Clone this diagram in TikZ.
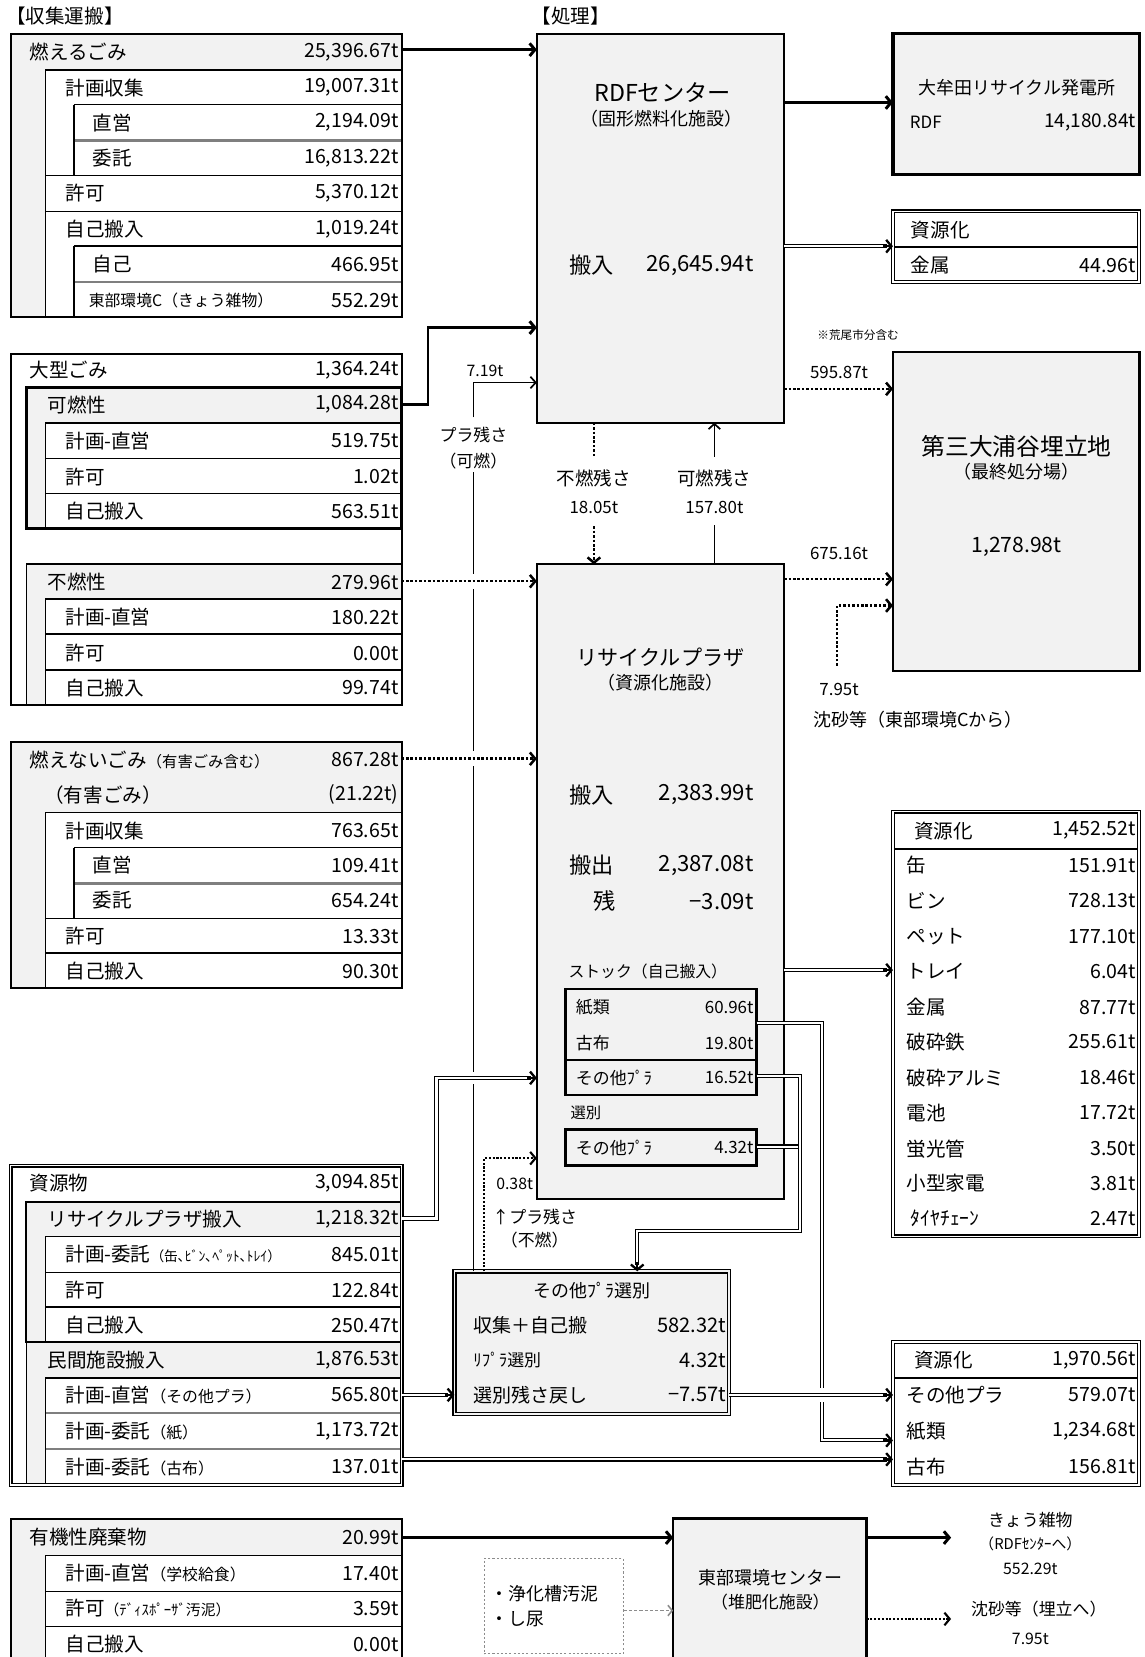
\documentclass[tikz,border=0pt]{standalone}
\usepackage{fontspec}
\setmainfont{Noto Sans CJK JP}
\usetikzlibrary{arrows.meta,calc}
\definecolor{boxgray}{HTML}{F2F2F2}
\definecolor{sepgray}{HTML}{7F7F7F}
\definecolor{dashgray}{HTML}{8C8C8C}
\newcommand\fs[1]{\fontsize{#1}{#1}\selectfont}
\tikzset{
  base/.style={inner sep=0pt, outer sep=0pt},
  tbox/.style={base, draw, line width=2pt, anchor=north west},
  lbl/.style={base, anchor=west, font=\fs{18.5}},
  val/.style={base, anchor=east, font=\fs{18.5}},
  ctr/.style={base, anchor=center},
  rowline/.style={line width=1.5pt},
  sepline/.style={line width=2.2pt, draw=sepgray},
  dbl/.style={line width=1.1pt, double=white, double distance=1.6pt},
  arr/.style={line width=2.8pt, -{Straight Barb[length=5pt,width=12pt]}},
  sline/.style={line width=1.6pt},
  sarr/.style={line width=1.6pt, -{Straight Barb[length=5pt,width=11pt]}},
  dotl/.style={line width=2.4pt, dash pattern=on 2.4pt off 1.8pt},
  dotarr/.style={dotl, -{Straight Barb[length=5pt,width=12pt]}},
  dline/.style={line width=1pt, double=white, double distance=2pt},
  tip/.style={line width=2.2pt, -{Straight Barb[length=5pt,width=12pt]}},
  dasharr/.style={draw=dashgray, line width=1.5pt, dash pattern=on 3pt off 2pt, -{Straight Barb[length=4pt,width=10pt]}},
}
\newcommand\bx[6][]{\node[tbox,#1,minimum width={(#5-#3)*1pt},minimum height={(#6-#4)*1pt}] (#2) at (#3,#4) {};}
\newcommand\rw[5]{\node[lbl] (#1) at (#2,#3) {#4};\node[val] (#1v) at (377,#3) {#5};}
\newcommand\rr[5]{\node[lbl] (#1) at (#2,#3) {#4};\node[val] (#1v) at (1075,#3) {#5};}
\begin{document}
\begin{tikzpicture}[x=1pt,y=-1pt]
\useasboundingbox[fill=white] (0,0) rectangle (1083,1568);
% y levels
\foreach \v in {47,97,233,310,368,383,548,550,573,718,918,968,1018,1020,1085,1153,1320,1363,1381,1455,1524}{\coordinate (y\v) at (0,\v);}

% titles
\node[lbl] (tA) at (6,15) {【収集運搬】};
\node[lbl] (tB) at (503,15) {【処理】};

% ---------- 燃えるごみ
\fill[boxgray] (10,32) rectangle (380,300);
\fill[white] (43,66) rectangle (380,300);
\draw[rowline] (43,66) -- (380,66) (43,66) -- (43,300) (70,99) -- (380,99) (70,99) -- (70,166) (43,166) -- (380,166) (43,200) -- (380,200) (70,233) -- (380,233) (70,233) -- (70,300);
\draw[sepline] (71,133) -- (379,133) (71,267) -- (379,267);
\bx{moeru}{10}{32}{380}{300}
\rw{m1}{28}{49}{燃えるごみ}{25,396.67t}
\rw{m2}{62}{83}{計画収集}{19,007.31t}
\rw{m3}{88}{116}{直営}{2,194.09t}
\rw{m4}{88}{150}{委託}{16,813.22t}
\rw{m5}{62}{183}{許可}{5,370.12t}
\rw{m6}{62}{217}{自己搬入}{1,019.24t}
\rw{m7}{88}{250}{自己}{466.95t}
\rw{m8}{84}{284}{\fs{15}東部環境C（きょう雑物）}{552.29t}

% ---------- 大型ごみ
\fill[boxgray] (25,367) rectangle (380,500);
\fill[white] (43,400) rectangle (380,500);
\draw[rowline] (43,400) -- (380,400) (43,400) -- (43,500) (43,434) -- (380,434) (43,467) -- (380,467);
\bx[line width=2.6pt]{kanen}{25}{367}{380}{500}
\fill[boxgray] (25,534) rectangle (380,667);
\fill[white] (43,567) rectangle (380,667);
\draw[rowline] (43,567) -- (380,567) (43,567) -- (43,667) (43,600) -- (380,600) (43,634) -- (380,634);
\bx[line width=1.6pt]{funen}{25}{534}{380}{667}
\bx{ogata}{10}{335}{380}{667}
\rw{g1}{28}{350}{大型ごみ}{1,364.24t}
\rw{g2}{45}{383}{可燃性}{1,084.28t}
\rw{g3}{62}{417}{計画-直営}{519.75t}
\rw{g4}{62}{451}{許可}{1.02t}
\rw{g5}{62}{484}{自己搬入}{563.51t}
\rw{g6}{45}{551}{不燃性}{279.96t}
\rw{g7}{62}{584}{計画-直営}{180.22t}
\rw{g8}{62}{618}{許可}{0.00t}
\rw{g9}{62}{651}{自己搬入}{99.74t}

% ---------- 燃えないごみ
\fill[boxgray] (10,702) rectangle (380,935);
\fill[white] (43,769) rectangle (380,935);
\draw[rowline] (43,769) -- (380,769) (43,769) -- (43,935) (70,802) -- (380,802) (70,802) -- (70,869) (43,869) -- (380,869) (43,902) -- (380,902);
\draw[sepline] (71,836) -- (379,836);
\bx{moenai}{10}{702}{380}{935}
\rw{n1}{28}{719}{燃えないごみ{\fs{14.5}（有害ごみ含む）}}{867.28t}
\rw{n2}{42}{752}{（有害ごみ）}{(21.22t)}
\rw{n3}{62}{786}{計画収集}{763.65t}
\rw{n4}{88}{819}{直営}{109.41t}
\rw{n5}{88}{852}{委託}{654.24t}
\rw{n6}{62}{886}{許可}{13.33t}
\rw{n7}{62}{919}{自己搬入}{90.30t}

% ---------- 資源物
\fill[boxgray] (25,1137) rectangle (380,1405);
\fill[white] (43,1170) rectangle (380,1270);
\fill[white] (43,1304) rectangle (380,1405);
\draw[rowline] (43,1170) -- (380,1170) (43,1170) -- (43,1270) (43,1204) -- (380,1204) (43,1237) -- (380,1237) (25,1270) -- (380,1270) (43,1304) -- (380,1304) (43,1304) -- (43,1405);
\draw[sepline] (44,1337) -- (379,1337) (44,1371) -- (379,1371);
\bx[line width=1.8pt]{rpgroup}{25}{1137}{380}{1270}
\bx[line width=1.2pt]{minkan}{25}{1270}{380}{1405}
\bx[dbl]{shigen}{10}{1103}{380}{1405}
\rw{r1}{28}{1120}{資源物}{3,094.85t}
\rw{r2}{45}{1154}{リサイクルプラザ搬入}{1,218.32t}
\rw{r3}{62}{1187}{計画-委託{\fs{13}（缶､ﾋﾞﾝ､ﾍﾟｯﾄ､ﾄﾚｲ）}}{845.01t}
\rw{r4}{62}{1221}{許可}{122.84t}
\rw{r5}{62}{1254}{自己搬入}{250.47t}
\rw{r6}{45}{1287}{民間施設搬入}{1,876.53t}
\rw{r7}{62}{1320}{計画-直営{\fs{15}（その他プラ）}}{565.80t}
\rw{r8}{62}{1354}{計画-委託{\fs{15}（紙）}}{1,173.72t}
\rw{r9}{62}{1388}{計画-委託{\fs{15}（古布）}}{137.01t}

% ---------- 有機性廃棄物
\fill[boxgray] (10,1437) rectangle (380,1600);
\fill[white] (43,1472) rectangle (380,1600);
\draw[rowline] (43,1472) -- (380,1472) (43,1472) -- (43,1600) (43,1506) -- (380,1506) (43,1539) -- (380,1539);
\bx{yuuki}{10}{1437}{380}{1600}
\rw{k1}{28}{1455}{有機性廃棄物}{20.99t}
\rw{k2}{62}{1489}{計画-直営{\fs{15}（学校給食）}}{17.40t}
\rw{k3}{62}{1522}{許可{\fs{14}（ﾃﾞｨｽﾎﾟｰｻﾞ汚泥）}}{3.59t}
\rw{k4}{62}{1556}{自己搬入}{0.00t}

% ---------- RDFセンター
\bx[fill=boxgray]{rdf}{508}{32}{742}{400}
\node[ctr,font=\fs{22}] (rdf1) at (627,88) {RDFセンター};
\node[ctr,font=\fs{17}] (rdf2) at (626,112) {（固形燃料化施設）};
\node[ctr,font=\fs{21}] (rdf3) at (560,251) {搬入};
\node[val,font=\fs{21}] (rdf4) at (713,251) {26,645.94t};

% ---------- 大牟田
\bx[fill=boxgray,line width=3pt]{omuta}{845}{32}{1078}{165}
\node[ctr,font=\fs{17}] (om1) at (962,83) {大牟田リサイクル発電所};
\node[lbl,font=\fs{16}] (om2) at (861,116) {RDF};
\node[val,font=\fs{18}] (om3) at (1075,116) {14,180.84t};

% ---------- 資源化 (金属)
\bx[dbl]{shk1}{845}{200}{1078}{267}
\draw[line width=2pt] (846,234) -- (1077,234);
\node[lbl] (a1) at (862,218) {資源化};
\rr{a2}{862}{251}{金属}{44.96t}

\node[ctr,font=\fs{11}] (note) at (812,317) {※荒尾市分含む};

% ---------- 埋立地
\bx[fill=boxgray,line width=2.6pt]{umetate}{845}{333}{1078}{635}
\node[ctr,font=\fs{22.5}] (u1) at (962,422) {第三大浦谷埋立地};
\node[ctr,font=\fs{17}] (u2) at (962,446) {（最終処分場）};
\node[ctr,font=\fs{20}] (u3) at (962,517) {1,278.98t};

% ---------- リサイクルプラザ
\bx[fill=boxgray]{rp}{508}{534}{742}{1135}
\node[ctr,font=\fs{20}] (p1) at (625,622) {リサイクルプラザ};
\node[ctr,font=\fs{17}] (p2) at (625,646) {（資源化施設）};
\node[ctr,font=\fs{21}] (p3) at (560,752) {搬入};
\node[val,font=\fs{21}] (p4) at (713,752) {2,383.99t};
\node[ctr,font=\fs{21}] (p5) at (560,819) {搬出};
\node[val,font=\fs{21}] (p6) at (713,819) {2,387.08t};
\node[ctr,font=\fs{21}] (p7) at (572,853) {残};
\node[val,font=\fs{21}] (p8) at (713,853) {−3.09t};
\node[lbl,font=\fs{15}] (p9) at (538,919) {ストック（自己搬入）};
\bx[fill=boxgray,line width=2.4pt]{stk1}{535}{936}{716}{1003}
\bx[fill=boxgray,line width=2.4pt]{stk2}{535}{1003}{716}{1036}
\bx[fill=boxgray,line width=2.4pt]{stk3}{535}{1069}{716}{1103}
\node[lbl,font=\fs{16}] (s1) at (545,953) {紙類};
\node[val,font=\fs{16}] (s1v) at (713,953) {60.96t};
\node[lbl,font=\fs{16}] (s2) at (545,987) {古布};
\node[val,font=\fs{16}] (s2v) at (713,987) {19.80t};
\node[lbl,font=\fs{16}] (s3) at (545,1020) {その他ﾌﾟﾗ};
\node[val,font=\fs{16}] (s3v) at (713,1020) {16.52t};
\node[lbl,font=\fs{14.5}] (s4) at (540,1053) {選別};
\node[lbl,font=\fs{16}] (s5) at (545,1086) {その他ﾌﾟﾗ};
\node[val,font=\fs{16}] (s5v) at (713,1086) {4.32t};

% ---------- 資源化 (big)
\bx[dbl]{shk2}{845}{768}{1078}{1170}
\draw[line width=2pt] (846,803) -- (1077,803);
\rr{b0}{865}{786}{資源化}{1,452.52t}
\rr{b1}{858}{819}{缶}{151.91t}
\rr{b2}{858}{852}{ビン}{728.13t}
\rr{b3}{858}{886}{ペット}{177.10t}
\rr{b4}{858}{919}{トレイ}{6.04t}
\rr{b5}{858}{953}{金属}{87.77t}
\rr{b6}{858}{986}{破砕鉄}{255.61t}
\rr{b7}{858}{1020}{破砕アルミ}{18.46t}
\rr{b8}{858}{1053}{電池}{17.72t}
\rr{b9}{858}{1087}{蛍光管}{3.50t}
\rr{b10}{858}{1120}{小型家電}{3.81t}
\rr{b11}{862}{1153}{ﾀｲﾔﾁｪｰﾝ}{2.47t}

% ---------- その他プラ選別
\bx[fill=boxgray,line width=1.3pt,double=boxgray,double distance=1.6pt]{sonota}{430}{1203}{690}{1338}
\node[ctr,font=\fs{17}] (o0) at (560,1221) {その他ﾌﾟﾗ選別};
\node[lbl,font=\fs{18}] (o1) at (448,1254) {収集＋自己搬};
\node[val,font=\fs{19}] (o1v) at (687,1254) {582.32t};
\node[lbl,font=\fs{16}] (o2) at (448,1287) {ﾘﾌﾟﾗ選別};
\node[val,font=\fs{19}] (o2v) at (687,1287) {4.32t};
\node[lbl,font=\fs{18}] (o3) at (448,1320) {選別残さ戻し};
\node[val,font=\fs{19}] (o3v) at (687,1320) {−7.57t};

% ---------- 資源化 (bottom)
\bx[dbl]{shk3}{845}{1270}{1078}{1405}
\draw[line width=2pt] (846,1304) -- (1077,1304);
\rr{c0}{865}{1287}{資源化}{1,970.56t}
\rr{c1}{858}{1320}{その他プラ}{579.07t}
\rr{c2}{858}{1354}{紙類}{1,234.68t}
\rr{c3}{858}{1388}{古布}{156.81t}

% ---------- 東部環境センター
\bx[fill=boxgray,line width=2.2pt]{tobu}{637}{1437}{820}{1600}
\node[ctr,font=\fs{17}] (e1) at (729,1493) {東部環境センター};
\node[ctr,font=\fs{16}] (e2) at (729,1516) {（堆肥化施設）};
\bx[draw=dashgray,line width=0.9pt,dash pattern=on 2pt off 2pt]{jouka}{458}{1475}{590}{1565}
\node[lbl,font=\fs{17}] (j1) at (464,1508) {・浄化槽汚泥};
\node[lbl,font=\fs{17}] (j2) at (464,1532) {・し尿};
\node[ctr,font=\fs{16}] (x1) at (975,1438) {きょう雑物};
\node[ctr,font=\fs{14}] (x2) at (975,1461) {（RDFｾﾝﾀｰへ）};
\node[ctr,font=\fs{15}] (x3) at (975,1485) {552.29t};
\node[ctr,font=\fs{16}] (x4) at (983,1523) {沈砂等（埋立へ）};
\node[ctr,font=\fs{15}] (x5) at (975,1551) {7.95t};

% ================= connectors
\draw[arr] (moeru.east |- y47) -- (rdf.west |- y47);
\draw[arr] (kanen.east |- y383) -- ++(25,0) |- (rdf.west |- y310);
\draw[arr] (rdf.east |- y97) -- (omuta.west |- y97);
\draw[dline, shorten >=6pt] (rdf.east |- y233) -- (shk1.west |- y233);
\draw[tip] ($(shk1.west |- y233)+(-9,0)$) -- (shk1.west |- y233);
\draw[dotarr] (rdf.east |- y368) -- (umetate.west |- y368);
\node[ctr,font=\fs{16}] (l595) at (794,352) {595.87t};
\draw[dotarr] (rp.east |- y548) -- (umetate.west |- y548);
\node[ctr,font=\fs{16}] (l675) at (794,524) {675.16t};
\coordinate (chin) at (792,630);
\draw[dotarr] (chin) |- (umetate.west |- y573);
\node[ctr,font=\fs{16}] (l795) at (794,652) {7.95t};
\node[lbl,font=\fs{17}] (lchin) at (770,681) {沈砂等（東部環境Cから）};

% 不燃残さ / 可燃残さ
\coordinate (fz1) at (562,432); \coordinate (fz2) at (562,498);
\draw[dotl] (rdf.south -| fz1) -- (fz1);
\draw[dotarr] (fz2) -- (rp.north -| fz2);
\node[ctr,font=\fs{17.5}] (lf1) at (562,453) {不燃残さ};
\node[ctr,font=\fs{16}] (lf2) at (562,480) {18.05t};
\coordinate (kz1) at (676,497); \coordinate (kz2) at (676,432);
\draw[sline] (rp.north -| kz1) -- (kz1);
\draw[sarr] (kz2) -- (rdf.south -| kz2);
\node[ctr,font=\fs{17.5}] (lk1) at (676,453) {可燃残さ};
\node[ctr,font=\fs{16}] (lk2) at (676,480) {157.80t};

% プラ残さ (可燃)
\coordinate (pA) at (448,447); \coordinate (pB) at (448,395); \coordinate (pC) at (448,362);
\draw[sline] (sonota.north -| pA) -- (pA);
\draw[sarr] (pB) -- (pC) -- (rdf.west |- pC);
\node[ctr,font=\fs{15}] (l719) at (459,351) {7.19t};
\node[ctr,font=\fs{16}] (lp1) at (448,412) {プラ残さ};
\node[ctr,font=\fs{16}] (lp2) at (448,436) {（可燃）};
\fill[white] (443,543) rectangle (453,557);
\fill[white] (443,711) rectangle (453,725);
\fill[white] (443,1014) rectangle (453,1026);

\draw[dotarr] (funen.east |- y550) -- (rp.west |- y550);
\draw[dotarr] (moenai.east |- y718) -- (rp.west |- y718);

% double lines
\draw[dline, shorten >=6pt] (rpgroup.east |- y1153) -- ++(33,0) |- (rp.west |- y1020);
\draw[tip] ($(rp.west |- y1020)+(-9,0)$) -- (rp.west |- y1020);
\draw[dline, shorten >=6pt] (minkan.east |- y1320) -- (sonota.west |- y1320);
\draw[tip] ($(sonota.west |- y1320)+(-9,0)$) -- (sonota.west |- y1320);
\draw[dline, shorten >=6pt] (minkan.east |- y1381) -- (shk3.west |- y1381);
\draw[tip] ($(shk3.west |- y1381)+(-9,0)$) -- (shk3.west |- y1381);
\draw[dline, shorten >=6pt] (rp.east |- y918) -- (shk2.west |- y918);
\draw[tip] ($(shk2.west |- y918)+(-9,0)$) -- (shk2.west |- y918);
\coordinate (v2) at (778,968);
\draw[dline, shorten >=6pt] (stk1.east |- y968) -- (v2) |- (shk3.west |- y1363);
\draw[tip] ($(shk3.west |- y1363)+(-9,0)$) -- (shk3.west |- y1363);
\coordinate (jn1) at (757,1165); \coordinate (jn2) at (603,1165);
\draw[dline, shorten >=6pt] (stk2.east |- y1018) -| (jn1) -- (jn2) -- (sonota.north -| jn2);
\draw[tip] ($(sonota.north -| jn2)+(0,-9)$) -- (sonota.north -| jn2);
\draw[dline] (stk3.east |- y1085) -- ($(jn1 |- y1085)+(-1.5,0)$);
\fill[white] (772,1313) rectangle (784,1327);
\draw[dline, shorten >=6pt] (sonota.east |- y1320) -- (shk3.west |- y1320);
\draw[tip] ($(shk3.west |- y1320)+(-9,0)$) -- (shk3.west |- y1320);

% 0.38t
\coordinate (q1) at (458,1096);
\draw[dotarr, line width=2pt, dash pattern=on 2pt off 1.6pt] (sonota.north -| q1) -- (q1) -- (rp.west |- q1);
\node[ctr,font=\fs{15}] (l038) at (487,1120) {0.38t};
\node[lbl,font=\fs{16}] (lp3) at (466,1152) {↑プラ残さ};
\node[ctr,font=\fs{16}] (lp4) at (506,1173) {（不燃）};

% bottom
\draw[arr] (yuuki.east |- y1455) -- (tobu.west |- y1455);
\draw[dasharr] (jouka.east |- y1524) -- (tobu.west |- y1524);
\coordinate (out1) at (900,1455); \coordinate (out2) at (900,1532);
\draw[arr] (tobu.east |- out1) -- (out1);
\draw[dotarr, line width=2pt, dash pattern=on 2pt off 1.6pt] (tobu.east |- out2) -- (out2);
\end{tikzpicture}
\end{document}
